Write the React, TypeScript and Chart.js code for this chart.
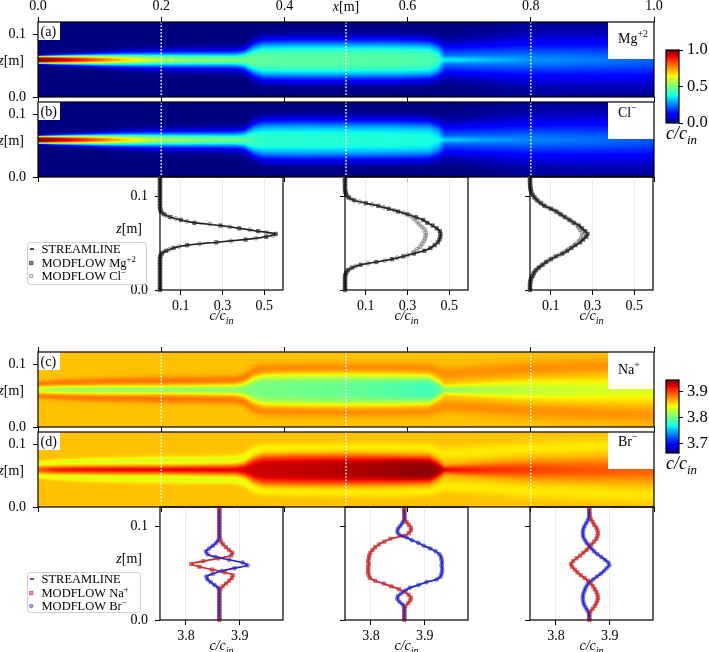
import { useEffect, useRef } from "react";
import { Chart, registerables } from "chart.js";

Chart.register(...registerables);

const PAGE_W = 709;
const PAGE_H = 652;
const SERIF = '"Liberation Serif", "DejaVu Serif", serif';
const LN2 = Math.LN2;
const TICK_FONT = 14;

// ---------- axes ----------
const X_TICKS = [0, 0.2, 0.4, 0.6, 0.8, 1.0];
const Z_TICKS = [0, 0.1];
const Z_MAX_FIELD = 0.12;
const Z_MAX_PROFILE = 0.121;
const SECTIONS = [0.2, 0.5, 0.8];
const TRACER_C_TICKS = [0.1, 0.3, 0.5];
const TRACER_C_RANGE = [0, 0.59];
const ION_C_TICKS = [3.8, 3.9];
const ION_C_RANGE = [3.752, 3.98];
const TRACER_CBAR_RANGE = [0, 1];
const TRACER_CBAR_TICKS = [0, 0.5, 1.0];
const ION_CBAR_RANGE = [3.665, 3.944];
const ION_CBAR_TICKS = [3.7, 3.8, 3.9];

// ---------- plume description along the domain (knots in x [m]) ----------
const PLUME_Z0 = 0.0595;
const STREAK_HW = 0.004;
const KNOT_X = [0, 0.03, 0.08, 0.14, 0.2, 0.26, 0.32, 0.335, 0.35, 0.365, 0.42, 0.5, 0.58, 0.635, 0.65, 0.66, 0.68, 0.72, 0.8, 0.9, 1.0];
const MG_PEAK = [1.0, 0.97, 0.86, 0.69, 0.56, 0.52, 0.5, 0.49, 0.47, 0.46, 0.455, 0.455, 0.45, 0.44, 0.4, 0.24, 0.25, 0.26, 0.27, 0.245, 0.22];
const MG_STREAK = [0, 0, 0, 0, 0, 0, 0, 0, 0, 0, 0, 0, 0, 0, 0.03, 0.12, 0.1, 0.06, 0, 0, 0];
const CL_PEAK = [1.0, 0.97, 0.86, 0.69, 0.55, 0.51, 0.48, 0.46, 0.42, 0.4, 0.395, 0.39, 0.385, 0.38, 0.35, 0.22, 0.23, 0.24, 0.255, 0.235, 0.21];
const CL_STREAK = [0, 0, 0, 0, 0, 0, 0, 0, 0, 0, 0, 0, 0, 0, 0.03, 0.11, 0.09, 0.05, 0, 0, 0];
const PLUME_HW = [0.0055, 0.0058, 0.0065, 0.0078, 0.009, 0.0095, 0.01, 0.012, 0.021, 0.026, 0.027, 0.027, 0.027, 0.026, 0.022, 0.02, 0.02, 0.021, 0.0233, 0.026, 0.028];
const PLUME_P = [4, 2.8, 2.2, 1.9, 1.8, 1.8, 1.8, 2, 2.6, 3, 3, 3, 3, 3, 2.6, 2.2, 2, 1.8, 1.5, 1.6, 1.7];

const ION_BASE = 3.862;
const ION_HW = [0.004, 0.0045, 0.0048, 0.005, 0.005, 0.0055, 0.006, 0.008, 0.016, 0.02, 0.021, 0.021, 0.02, 0.019, 0.012, 0.005, 0.006, 0.008, 0.012, 0.014, 0.016];
const ION_P = [2, 2, 2, 2, 2, 2, 2, 2.5, 3.5, 4, 4, 4, 4, 4, 3, 2, 2, 2, 2, 2, 2];
const LOBE_L = [0.01, 0.0115, 0.013, 0.014, 0.0145, 0.015, 0.016, 0.02, 0.03, 0.034, 0.035, 0.036, 0.036, 0.035, 0.03, 0.026, 0.027, 0.029, 0.034, 0.037, 0.04];
const LOBE_W = [0.004, 0.005, 0.006, 0.0065, 0.007, 0.007, 0.007, 0.007, 0.008, 0.008, 0.008, 0.008, 0.008, 0.008, 0.009, 0.01, 0.01, 0.011, 0.012, 0.013, 0.014];
const NA_CENTRE = [-0.03, -0.045, -0.05, -0.051, -0.052, -0.053, -0.054, -0.056, -0.058, -0.06, -0.062, -0.065, -0.072, -0.078, -0.07, -0.055, -0.05, -0.043, -0.034, -0.028, -0.024];
const NA_SIDE = [0.02, 0.022, 0.022, 0.022, 0.023, 0.022, 0.021, 0.02, 0.018, 0.016, 0.016, 0.015, 0.015, 0.015, 0.015, 0.015, 0.015, 0.015, 0.015, 0.014, 0.013];
const BR_CENTRE = [0.03, 0.05, 0.055, 0.056, 0.057, 0.058, 0.058, 0.06, 0.062, 0.064, 0.066, 0.069, 0.076, 0.08, 0.072, 0.058, 0.052, 0.046, 0.038, 0.032, 0.028];
const BR_SIDE = [-0.02, -0.024, -0.025, -0.025, -0.025, -0.025, -0.024, -0.022, -0.018, -0.015, -0.014, -0.013, -0.013, -0.013, -0.013, -0.013, -0.013, -0.013, -0.0125, -0.012, -0.011];

// ---------- vertical profiles at the three sections ----------
// MODFLOW cell centres (two staggered sampling columns)
const ZA = [0, 0.003, 0.006, 0.009, 0.012, 0.015, 0.018, 0.021, 0.024, 0.027, 0.03, 0.033, 0.036, 0.039, 0.042, 0.045, 0.048, 0.051, 0.054, 0.057, 0.06, 0.063, 0.066, 0.069, 0.072, 0.075, 0.078, 0.081, 0.084, 0.087, 0.09, 0.093, 0.096, 0.099, 0.102, 0.105, 0.108, 0.111, 0.114, 0.117, 0.12];
const ZB = [0.0015, 0.0045, 0.0075, 0.0105, 0.0135, 0.0165, 0.0195, 0.0225, 0.0255, 0.0285, 0.0315, 0.0345, 0.0375, 0.0405, 0.0435, 0.0465, 0.0495, 0.0525, 0.0555, 0.0585, 0.0615, 0.0645, 0.0675, 0.0705, 0.0735, 0.0765, 0.0795, 0.0825, 0.0855, 0.0885, 0.0915, 0.0945, 0.0975, 0.1005, 0.1035, 0.1065, 0.1095, 0.1125, 0.1155, 0.1185];

const MG_X02 = [0, 0, 0, 0, 0, 0, 0, 0, 0, 0, 0, 0, 0.002, 0.008, 0.03, 0.065, 0.13, 0.27, 0.41, 0.51, 0.555, 0.47, 0.38, 0.29, 0.165, 0.1, 0.05, 0.02, 0.005, 0.001, 0, 0, 0, 0, 0, 0, 0, 0, 0, 0, 0];
const CL_X02 = [0, 0, 0, 0, 0, 0, 0, 0, 0, 0, 0, 0, 0.004, 0.014, 0.045, 0.09, 0.19, 0.34, 0.46, 0.54, 0.51, 0.43, 0.335, 0.24, 0.13, 0.075, 0.033, 0.01, 0.003, 0, 0, 0, 0, 0, 0, 0, 0, 0, 0, 0];
const MG_X05 = [0, 0, 0, 0, 0, 0.001, 0.005, 0.013, 0.035, 0.075, 0.15, 0.225, 0.28, 0.33, 0.38, 0.41, 0.43, 0.445, 0.453, 0.457, 0.458, 0.455, 0.44, 0.42, 0.395, 0.375, 0.34, 0.3, 0.255, 0.21, 0.16, 0.1, 0.045, 0.018, 0.006, 0.002, 0, 0, 0, 0, 0];
const CL_X05 = [0, 0, 0, 0, 0, 0.002, 0.008, 0.022, 0.052, 0.11, 0.19, 0.25, 0.3, 0.33, 0.345, 0.36, 0.37, 0.378, 0.384, 0.388, 0.387, 0.382, 0.37, 0.355, 0.345, 0.33, 0.315, 0.28, 0.235, 0.185, 0.13, 0.07, 0.03, 0.012, 0.004, 0.001, 0, 0, 0, 0];
const MG_X08 = [0, 0, 0, 0.002, 0.005, 0.012, 0.018, 0.027, 0.042, 0.06, 0.078, 0.1, 0.125, 0.155, 0.178, 0.198, 0.218, 0.24, 0.255, 0.27, 0.276, 0.265, 0.25, 0.235, 0.21, 0.19, 0.168, 0.147, 0.127, 0.1, 0.07, 0.052, 0.035, 0.022, 0.012, 0.006, 0.003, 0.001, 0, 0, 0];
const CL_X08 = [0, 0, 0.001, 0.003, 0.008, 0.015, 0.022, 0.034, 0.05, 0.068, 0.088, 0.112, 0.14, 0.165, 0.185, 0.205, 0.222, 0.235, 0.246, 0.253, 0.25, 0.24, 0.232, 0.22, 0.2, 0.18, 0.157, 0.137, 0.115, 0.085, 0.062, 0.043, 0.028, 0.017, 0.009, 0.004, 0.002, 0.001, 0, 0];

const B = ION_BASE;
const NA_X02 = [B, B, B, B, B, B, B, B, B, B, B, 3.864, 3.868, 3.874, 3.88, 3.885, 3.887, 3.872, 3.848, 3.825, 3.81, 3.832, 3.86, 3.884, 3.886, 3.88, 3.874, 3.869, 3.865, 3.863, B, B, B, B, B, B, B, B, B, B, B];
const BR_X02 = [B, B, B, B, B, B, B, B, B, B, B, 3.86, 3.853, 3.846, 3.84, 3.838, 3.85, 3.866, 3.89, 3.914, 3.905, 3.88, 3.855, 3.84, 3.837, 3.843, 3.85, 3.856, 3.86, B, B, B, B, B, B, B, B, B, B, B];
const NA_X05 = [B, B, B, B, B, 3.864, 3.869, 3.873, 3.874, 3.87, 3.863, 3.852, 3.838, 3.824, 3.808, 3.798, 3.796, 3.795, 3.795, 3.795, 3.796, 3.795, 3.796, 3.797, 3.799, 3.803, 3.808, 3.815, 3.825, 3.836, 3.86, 3.87, 3.874, 3.874, 3.87, 3.866, 3.863, B, B, B, B];
const BR_X05 = [B, B, B, B, B, 3.859, 3.853, 3.849, 3.85, 3.856, 3.864, 3.872, 3.888, 3.903, 3.922, 3.929, 3.931, 3.932, 3.932, 3.931, 3.932, 3.931, 3.93, 3.927, 3.92, 3.91, 3.898, 3.888, 3.876, 3.866, 3.852, 3.849, 3.85, 3.854, 3.858, 3.861, B, B, B, B];
const NA_X08 = [B, B, B, 3.864, 3.868, 3.872, 3.875, 3.877, 3.878, 3.877, 3.875, 3.872, 3.869, 3.865, 3.86, 3.853, 3.846, 3.84, 3.835, 3.83, 3.828, 3.832, 3.838, 3.845, 3.851, 3.857, 3.861, 3.866, 3.871, 3.875, 3.877, 3.878, 3.877, 3.875, 3.871, 3.868, 3.865, 3.863, B, B, B];
const BR_X08 = [B, B, 3.861, 3.858, 3.855, 3.852, 3.851, 3.85, 3.85, 3.851, 3.853, 3.855, 3.858, 3.862, 3.869, 3.876, 3.883, 3.889, 3.894, 3.899, 3.897, 3.891, 3.884, 3.877, 3.871, 3.866, 3.862, 3.857, 3.854, 3.851, 3.85, 3.85, 3.851, 3.853, 3.856, 3.859, 3.861, B, B, B];

const MG_PROFILES = [MG_X02, MG_X05, MG_X08];
const CL_PROFILES = [CL_X02, CL_X05, CL_X08];
const NA_PROFILES = [NA_X02, NA_X05, NA_X08];
const BR_PROFILES = [BR_X02, BR_X05, BR_X08];

// ---------- page layout (px) ----------
type Box = { l: number; t: number; r: number; b: number };
type Sizes = { left: number; top: number; right: number; bottom: number };
const FIELD_A: Box = { l: 38, t: 22, r: 654, b: 97 };
const FIELD_B: Box = { l: 38, t: 102, r: 654, b: 177 };
const FIELD_C: Box = { l: 38, t: 352, r: 654, b: 427 };
const FIELD_D: Box = { l: 38, t: 432, r: 654, b: 507 };
const CBAR_TOP: Box = { l: 666, t: 50, r: 679, b: 123 };
const CBAR_BOTTOM: Box = { l: 666, t: 380, r: 679, b: 453 };
const PROFILE_LEFTS = [160, 345, 530];
const PROFILE_W = 123;
const ROW_TRACER = { t: 177, b: 290 };
const ROW_ION = { t: 507, b: 620 };

// ---------- colour map (matplotlib "jet") ----------
const JET_R = [[0, 0], [0.35, 0], [0.66, 1], [0.89, 1], [1, 0.5]];
const JET_G = [[0, 0], [0.125, 0], [0.375, 1], [0.64, 1], [0.91, 0], [1, 0]];
const JET_B = [[0, 0.5], [0.11, 1], [0.34, 1], [0.65, 0], [1, 0]];
function seg(pts: number[][], t: number) {
  for (let i = 1; i < pts.length; i++) {
    if (t <= pts[i][0]) {
      const [x0, y0] = pts[i - 1];
      const [x1, y1] = pts[i];
      return y0 + ((y1 - y0) * (t - x0)) / (x1 - x0);
    }
  }
  return pts[pts.length - 1][1];
}
function jet(t: number): [number, number, number] {
  const u = Math.min(1, Math.max(0, t));
  return [Math.round(255 * seg(JET_R, u)), Math.round(255 * seg(JET_G, u)), Math.round(255 * seg(JET_B, u))];
}

// ---------- field columns built from the knot tables ----------
function atKnots(x: number, tables: number[][]) {
  let i = 0;
  while (i < KNOT_X.length - 2 && x > KNOT_X[i + 1]) i++;
  const t = Math.min(1, Math.max(0, (x - KNOT_X[i]) / (KNOT_X[i + 1] - KNOT_X[i])));
  return tables.map((a) => a[i] + (a[i + 1] - a[i]) * t);
}
const tracerColumn = (peak: number[], streak: number[]) => (x: number) => {
  const [pk, st, hw, p] = atKnots(x, [peak, streak, PLUME_HW, PLUME_P]);
  return (z: number) => {
    const d = z - PLUME_Z0;
    const s = d / STREAK_HW;
    return pk * Math.exp(-LN2 * Math.pow(Math.abs(d) / hw, p)) + st * Math.exp(-LN2 * s * s);
  };
};
const ionColumn = (centre: number[], side: number[]) => (x: number) => {
  const [c, sd, hw, p, L, Wd] = atKnots(x, [centre, side, ION_HW, ION_P, LOBE_L, LOBE_W]);
  return (z: number) => {
    const d = Math.abs(z - PLUME_Z0);
    const q = (d - L) / Wd;
    return ION_BASE + c * Math.exp(-LN2 * Math.pow(d / hw, p)) + sd * Math.exp(-q * q);
  };
};

// ---------- text helpers ----------
type Run = { text: string; size: number; italic?: boolean; dy?: number };
function drawRuns(ctx: CanvasRenderingContext2D, runs: Run[], x: number, y: number, align: "left" | "center" | "right") {
  ctx.save();
  ctx.textBaseline = "alphabetic";
  ctx.textAlign = "left";
  ctx.fillStyle = "#000";
  const fonts = runs.map((r) => `${r.italic ? "italic " : ""}${r.size}px ${SERIF}`);
  const widths = runs.map((r, i) => {
    ctx.font = fonts[i];
    return ctx.measureText(r.text).width;
  });
  const total = widths.reduce((a, b) => a + b, 0);
  let cx = align === "left" ? x : align === "center" ? x - total / 2 : x - total;
  runs.forEach((r, i) => {
    ctx.font = fonts[i];
    ctx.fillText(r.text, cx, y + (r.dy ?? 0));
    cx += widths[i];
  });
  ctx.restore();
}
const cOverCin = (size: number): Run[] => [
  { text: "c/c", size, italic: true },
  { text: "in", size: size * 0.72, italic: true, dy: size * 0.28 },
];
const lengthLabel = (sym: string, size: number): Run[] => [
  { text: sym, size, italic: true },
  { text: "[m]", size },
];
const ion = (name: string, charge: string, size: number): Run[] => [
  { text: name, size },
  { text: charge, size: size * 0.7, dy: -size * 0.42 },
];

// ---------- shared chart options ----------
// every axis gets a fixed thickness so that the plot boxes land where the layout wants them
const fixedSize = (n: number) => (s: any) => {
  if (s.isHorizontal()) s.height = n;
  else s.width = n;
  s.paddingLeft = 0;
  s.paddingRight = 0;
  s.paddingTop = 0;
  s.paddingBottom = 0;
};
function axis(position: string, min: number, max: number, ticks: number[], labels: boolean, pad: number, size: number, extra: any = {}) {
  return {
    type: "linear",
    position,
    min,
    max,
    afterBuildTicks: (s: any) => {
      s.ticks = ticks.map((v) => ({ value: v }));
    },
    afterFit: fixedSize(size),
    border: { display: false },
    grid: { drawOnChartArea: false, drawTicks: true, tickLength: 5, tickColor: "#000", tickWidth: 1, ...(extra.grid || {}) },
    ticks: {
      display: labels,
      autoSkip: false,
      maxRotation: 0,
      padding: pad,
      color: "#000",
      font: { family: SERIF, size: extra.fontSize || TICK_FONT },
      callback: (v: any) => Number(v).toFixed(1),
    },
  };
}
const baseOptions = (box: Box, s: Sizes) => ({
  responsive: false,
  animation: false,
  devicePixelRatio: 1,
  events: [],
  layout: {
    autoPadding: false,
    padding: { left: box.l - s.left, top: box.t - s.top, right: PAGE_W - box.r - s.right, bottom: PAGE_H - box.b - s.bottom },
  },
  plugins: { legend: { display: false }, tooltip: { enabled: false }, title: { display: false } },
});

function frame(chart: any) {
  const { ctx, chartArea: a } = chart;
  ctx.save();
  ctx.strokeStyle = "#000";
  ctx.lineWidth = 1.2;
  ctx.strokeRect(a.left, a.top, a.right - a.left, a.bottom - a.top);
  ctx.restore();
}

// ---------- concentration maps ----------
function fieldImagePlugin(column: (x: number) => (z: number) => number, vmin: number, vmax: number) {
  return {
    id: "fieldImage",
    beforeDatasetsDraw(chart: any) {
      const { ctx, chartArea: a, scales } = chart;
      const w = Math.round(a.right - a.left);
      const h = Math.round(a.bottom - a.top);
      const off = document.createElement("canvas");
      off.width = w;
      off.height = h;
      const octx = off.getContext("2d")!;
      const img = octx.createImageData(w, h);
      const zs: number[] = [];
      for (let j = 0; j < h; j++) zs.push(scales.y.getValueForPixel(a.top + j + 0.5));
      for (let i = 0; i < w; i++) {
        const col = column(scales.x.getValueForPixel(a.left + i + 0.5));
        for (let j = 0; j < h; j++) {
          const [r, g, b] = jet((col(zs[j]) - vmin) / (vmax - vmin));
          const k = (j * w + i) * 4;
          img.data[k] = r;
          img.data[k + 1] = g;
          img.data[k + 2] = b;
          img.data[k + 3] = 255;
        }
      }
      octx.putImageData(img, 0, 0);
      ctx.drawImage(off, a.left, a.top);
    },
  };
}

type FieldSpec = {
  box: Box;
  column: (x: number) => (z: number) => number;
  range: number[];
  tag: string;
  species: Run[];
  speciesDrop: number;
  top: "labels" | "ticks" | "none";
};
function fieldConfig(spec: FieldSpec) {
  const topSize = spec.top === "labels" ? spec.box.t : spec.top === "ticks" ? 5 : 0;
  const sizes: Sizes = { left: spec.box.l, top: topSize, right: 0, bottom: 5 };
  const scales: any = {
    x: axis("bottom", 0, 1, X_TICKS, false, 3, sizes.bottom),
    y: axis("left", 0, Z_MAX_FIELD, Z_TICKS, true, 7, sizes.left),
  };
  if (spec.top !== "none") scales.xTop = axis("top", 0, 1, X_TICKS, spec.top === "labels", 2.5, topSize);
  return {
    type: "scatter",
    data: { datasets: [] },
    options: { ...baseOptions(spec.box, sizes), scales },
    plugins: [
      fieldImagePlugin(spec.column, spec.range[0], spec.range[1]),
      {
        id: "fieldDecor",
        afterDraw(chart: any) {
          const { ctx, chartArea: a, scales: s } = chart;
          ctx.save();
          // section markers
          ctx.strokeStyle = "rgba(255,255,255,0.95)";
          ctx.lineWidth = 1.6;
          ctx.setLineDash([1.6, 1.8]);
          SECTIONS.forEach((xs) => {
            const px = s.x.getPixelForValue(xs);
            ctx.beginPath();
            ctx.moveTo(px, a.top);
            ctx.lineTo(px, a.bottom);
            ctx.stroke();
          });
          ctx.setLineDash([]);
          // panel tag
          ctx.fillStyle = "#fff";
          ctx.fillRect(a.left, a.top, 22, 18);
          ctx.restore();
          drawRuns(ctx, [{ text: spec.tag, size: 14 }], a.left + 2.5, a.top + 14, "left");
          // species box
          ctx.save();
          ctx.fillStyle = "#fff";
          ctx.fillRect(a.right - 46, a.top, 46, 37);
          ctx.restore();
          drawRuns(ctx, spec.species, a.right - 36, a.top + spec.speciesDrop, "left");
          frame(chart);
          drawRuns(ctx, lengthLabel("z", 14), 24, s.y.getPixelForValue(0.058) + 4.5, "right");
          if (spec.top === "labels") drawRuns(ctx, lengthLabel("x", 14), s.x.getPixelForValue(0.5), 10.5, "center");
        },
      },
    ],
  };
}

// ---------- colour bars ----------
function colorbarConfig(box: Box, range: number[], ticks: number[], labelBaseline: number) {
  const sizes: Sizes = { left: 0, top: 0, right: PAGE_W - box.r, bottom: 0 };
  return {
    type: "scatter",
    data: { datasets: [] },
    options: {
      ...baseOptions(box, sizes),
      scales: {
        x: { type: "linear", display: false, min: 0, max: 1 },
        y: axis("right", range[0], range[1], ticks, true, 4, sizes.right, { fontSize: 16.5, grid: { tickLength: 4 } }),
      },
    },
    plugins: [
      {
        id: "colorbarFill",
        beforeDatasetsDraw(chart: any) {
          const { ctx, chartArea: a, scales } = chart;
          for (let py = Math.floor(a.top); py < a.bottom; py++) {
            const v = scales.y.getValueForPixel(py + 0.5);
            const [r, g, b] = jet((v - range[0]) / (range[1] - range[0]));
            ctx.fillStyle = `rgb(${r},${g},${b})`;
            ctx.fillRect(a.left, py, a.right - a.left, 1);
          }
        },
        afterDraw(chart: any) {
          frame(chart);
          drawRuns(chart.ctx, cOverCin(18), (box.l + box.r) / 2 + 9, labelBaseline, "center");
        },
      },
    ],
  };
}

// ---------- vertical profiles ----------
const pts = (zs: number[], vs: number[]) => vs.map((v, i) => ({ x: v, y: zs[i] }));
const lineSet = (zs: number[], vs: number[], color: string, width: number) => ({
  data: pts(zs, vs),
  showLine: true,
  pointRadius: 0,
  borderColor: color,
  borderWidth: width,
  tension: 0.25,
});
const markSet = (zs: number[], vs: number[], style: string, radius: number, fill: string, stroke: string) => ({
  data: pts(zs, vs),
  showLine: false,
  pointStyle: style,
  pointRadius: radius,
  backgroundColor: fill,
  borderColor: stroke,
  borderWidth: 0.8,
  clip: false,
});

type LegendItem = { handle: "line" | "rect" | "circle"; fill: string; stroke: string; runs: Run[] };
function drawLegend(ctx: CanvasRenderingContext2D, box: Box, rows: number[], items: LegendItem[]) {
  ctx.save();
  ctx.fillStyle = "rgba(255,255,255,0.85)";
  ctx.strokeStyle = "#cfcfcf";
  ctx.lineWidth = 1;
  ctx.beginPath();
  (ctx as any).roundRect(box.l + 0.5, box.t + 0.5, box.r - box.l, box.b - box.t, 3);
  ctx.fill();
  ctx.stroke();
  items.forEach((it, i) => {
    const y = rows[i];
    ctx.fillStyle = it.fill;
    ctx.strokeStyle = it.stroke;
    if (it.handle === "line") {
      ctx.lineWidth = 1.6;
      ctx.beginPath();
      ctx.moveTo(box.l + 3, y);
      ctx.lineTo(box.l + 7, y);
      ctx.stroke();
    } else if (it.handle === "rect") {
      ctx.lineWidth = 0.8;
      ctx.fillRect(box.l + 2.5, y - 1.7, 3.4, 3.4);
      ctx.strokeRect(box.l + 2.5, y - 1.7, 3.4, 3.4);
    } else {
      ctx.lineWidth = 0.8;
      ctx.beginPath();
      ctx.arc(box.l + 4.2, y, 1.8, 0, Math.PI * 2);
      ctx.fill();
      ctx.stroke();
    }
    drawRuns(ctx, it.runs, box.l + 14.5, y + 4, "left");
  });
  ctx.restore();
}

const LEGEND_FONT = 12.5;
const TRACER_LEGEND: LegendItem[] = [
  { handle: "line", fill: "#222", stroke: "#222", runs: [{ text: "STREAMLINE", size: LEGEND_FONT }] },
  { handle: "rect", fill: "rgba(85,85,85,0.75)", stroke: "rgba(50,50,50,0.8)", runs: [{ text: "MODFLOW ", size: LEGEND_FONT }, ...ion("Mg", "+2", LEGEND_FONT)] },
  { handle: "circle", fill: "rgba(215,215,215,0.5)", stroke: "rgba(110,110,110,0.85)", runs: [{ text: "MODFLOW ", size: LEGEND_FONT }, ...ion("Cl", "−", LEGEND_FONT)] },
];
const ION_LEGEND: LegendItem[] = [
  { handle: "line", fill: "#2424c8", stroke: "#2424c8", runs: [{ text: "STREAMLINE", size: LEGEND_FONT }] },
  { handle: "rect", fill: "rgba(215,80,80,0.6)", stroke: "rgba(190,50,50,0.7)", runs: [{ text: "MODFLOW ", size: LEGEND_FONT }, ...ion("Na", "+", LEGEND_FONT)] },
  { handle: "circle", fill: "rgba(100,100,230,0.6)", stroke: "rgba(70,70,200,0.7)", runs: [{ text: "MODFLOW ", size: LEGEND_FONT }, ...ion("Br", "−", LEGEND_FONT)] },
];

type ProfileSpec = {
  box: Box;
  cRange: number[];
  cTicks: number[];
  datasets: any[];
  first: boolean;
  legend?: { box: Box; rows: number[]; items: LegendItem[] };
  labelBaseline: number;
};
function profileConfig(spec: ProfileSpec) {
  const sizes: Sizes = { left: 45, top: 0, right: 0, bottom: 28 };
  return {
    type: "scatter",
    data: { datasets: spec.datasets },
    options: {
      ...baseOptions(spec.box, sizes),
      scales: {
        x: axis("bottom", spec.cRange[0], spec.cRange[1], spec.cTicks, true, 3, sizes.bottom, {
          grid: { drawOnChartArea: true, color: "#e6e6e6", lineWidth: 0.8, tickColor: "#000" },
        }),
        y: axis("left", 0, Z_MAX_PROFILE, Z_TICKS, spec.first, 7, sizes.left),
      },
    },
    plugins: [
      {
        id: "profileDecor",
        afterDraw(chart: any) {
          const { ctx, chartArea: a, scales: s } = chart;
          frame(chart);
          drawRuns(ctx, cOverCin(14), (a.left + a.right) / 2, spec.labelBaseline, "center");
          if (spec.first) {
            drawRuns(ctx, lengthLabel("z", 14), 142, s.y.getPixelForValue(0.066) + 4.5, "right");
            if (spec.legend) drawLegend(ctx, spec.legend.box, spec.legend.rows, spec.legend.items);
          }
        },
      },
    ],
  };
}

function buildConfigs() {
  const configs: any[] = [
    fieldConfig({ box: FIELD_A, column: tracerColumn(MG_PEAK, MG_STREAK), range: TRACER_CBAR_RANGE, tag: "(a)", species: ion("Mg", "+2", 14), speciesDrop: 20.5, top: "labels" }),
    fieldConfig({ box: FIELD_B, column: tracerColumn(CL_PEAK, CL_STREAK), range: TRACER_CBAR_RANGE, tag: "(b)", species: ion("Cl", "−", 14), speciesDrop: 14.5, top: "none" }),
    fieldConfig({ box: FIELD_C, column: ionColumn(NA_CENTRE, NA_SIDE), range: ION_CBAR_RANGE, tag: "(c)", species: ion("Na", "+", 14), speciesDrop: 21.5, top: "ticks" }),
    fieldConfig({ box: FIELD_D, column: ionColumn(BR_CENTRE, BR_SIDE), range: ION_CBAR_RANGE, tag: "(d)", species: ion("Br", "−", 14), speciesDrop: 14, top: "none" }),
    colorbarConfig(CBAR_TOP, TRACER_CBAR_RANGE, TRACER_CBAR_TICKS, 139),
    colorbarConfig(CBAR_BOTTOM, ION_CBAR_RANGE, ION_CBAR_TICKS, 469),
  ];
  PROFILE_LEFTS.forEach((left, k) => {
    configs.push(
      profileConfig({
        box: { l: left, t: ROW_TRACER.t, r: left + PROFILE_W, b: ROW_TRACER.b },
        cRange: TRACER_C_RANGE,
        cTicks: TRACER_C_TICKS,
        first: k === 0,
        labelBaseline: 320,
        legend: { box: { l: 27, t: 242, r: 146, b: 284 }, rows: [249, 263, 276], items: TRACER_LEGEND },
        datasets: [
          lineSet(ZA, MG_PROFILES[k], "#1f1f1f", 1.5),
          lineSet(ZB, CL_PROFILES[k], "#8f8f8f", 1.2),
          markSet(ZA, MG_PROFILES[k], "rect", 2.4, "rgba(85,85,85,0.75)", "rgba(50,50,50,0.8)"),
          markSet(ZB, CL_PROFILES[k], "circle", 2.0, "rgba(215,215,215,0.5)", "rgba(110,110,110,0.85)"),
        ],
      })
    );
    configs.push(
      profileConfig({
        box: { l: left, t: ROW_ION.t, r: left + PROFILE_W, b: ROW_ION.b },
        cRange: ION_C_RANGE,
        cTicks: ION_C_TICKS,
        first: k === 0,
        labelBaseline: 650,
        legend: { box: { l: 27, t: 572, r: 140, b: 612 }, rows: [579, 593, 606], items: ION_LEGEND },
        datasets: [
          lineSet(ZB, BR_PROFILES[k], "#2424c8", 1.7),
          lineSet(ZA, NA_PROFILES[k], "#cc2a2a", 1.7),
          markSet(ZA, NA_PROFILES[k], "rect", 2.4, "rgba(215,80,80,0.6)", "rgba(190,50,50,0.7)"),
          markSet(ZB, BR_PROFILES[k], "circle", 2.0, "rgba(100,100,230,0.6)", "rgba(70,70,200,0.7)"),
        ],
      })
    );
  });
  return configs;
}

const CONFIG_COUNT = 12;

export default function App() {
  const canvases = useRef<(HTMLCanvasElement | null)[]>([]);
  useEffect(() => {
    const configs = buildConfigs();
    const charts = configs.map((cfg, i) => new Chart(canvases.current[i] as HTMLCanvasElement, cfg));
    return () => charts.forEach((c) => c.destroy());
  }, []);
  return (
    <div style={{ position: "fixed", left: 0, top: 0, width: PAGE_W, height: PAGE_H, background: "#fff", overflow: "hidden" }}>
      {Array.from({ length: CONFIG_COUNT }, (_, i) => (
        <canvas
          key={i}
          ref={(el) => {
            canvases.current[i] = el;
          }}
          width={PAGE_W}
          height={PAGE_H}
          style={{ position: "absolute", left: 0, top: 0, width: PAGE_W, height: PAGE_H }}
        />
      ))}
    </div>
  );
}
